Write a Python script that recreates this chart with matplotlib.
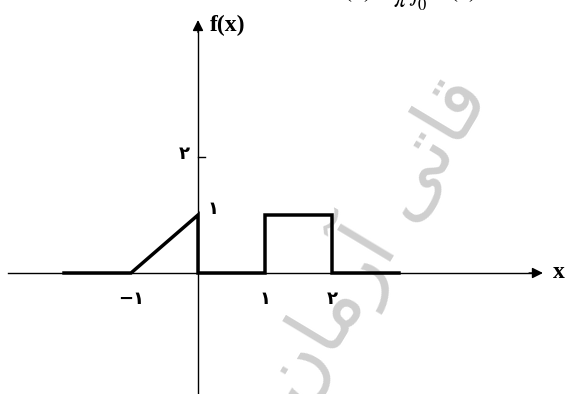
import matplotlib
matplotlib.use("Agg")
import matplotlib.pyplot as plt

# piecewise f(x): zero, ramp from -1 to 0, box on [1, 2], zero again
seg_x = [-2, -1, 0, 0, 1, 1, 2, 2, 3]
seg_y = [0, 0, 1, 0, 0, 1, 1, 0, 0]

xtick_pos = [-1, 1, 2]
xtick_lab = ["\u2212\u06f1", "\u06f1", "\u06f2"]
ytick_pos = [2]
ytick_lab = ["\u06f2"]
ramp_top_lab = "\u06f1"

# watermark "قاتی آرمان", pre-shaped and put in visual order
watermark = "\ufee5\ufe8e\ufee3\ufead\ufe81 \ufef0\ufe97\ufe8e\ufed7"

plt.rcParams['font.family'] = ['DejaVu Sans']
plt.rcParams['mathtext.fontset'] = 'stix'

fig = plt.figure(figsize=(5.66, 3.94), dpi=100)
ax = fig.add_axes([0, 0, 1, 1])
ax.set_xlim(-198 / 67, (566 - 198) / 67)
ax.set_ylim((273 - 394) / 58, 273 / 58)
ax.axis('off')

# watermark behind everything
ax.text(2.6, 0.6, watermark, fontsize=58, color='#cfcfcf', rotation=59,
        rotation_mode='anchor', ha='center', va='center', zorder=0)

# axes with arrows
ax.plot([-2.84, 5.0], [0, 0], color='black', lw=1.0, zorder=2)
ax.annotate('', xy=(5.19, 0), xytext=(4.9, 0),
            arrowprops=dict(arrowstyle='-|>', color='black', lw=1.0, mutation_scale=16))
ax.plot([0, 0], [-2.2, 4.2], color='black', lw=1.0, zorder=2)
ax.annotate('', xy=(0, 4.41), xytext=(0, 4.1),
            arrowprops=dict(arrowstyle='-|>', color='black', lw=1.0, mutation_scale=16))

# graph
ax.plot(seg_x, seg_y, color='black', lw=2.5, solid_joinstyle='miter', zorder=3)

# tick on y axis
for yp, lab in zip(ytick_pos, ytick_lab):
    ax.plot([0, 0.1], [yp, yp], color='black', lw=1.0)
    ax.text(-0.2, yp + 0.05, lab, fontsize=13, fontweight='bold', ha='center', va='center')
ax.text(0.22, 1.1, ramp_top_lab, fontsize=13, fontweight='bold', ha='center', va='center')

for xp, lab in zip(xtick_pos, xtick_lab):
    ax.text(xp, -0.45, lab, fontsize=13, fontweight='bold', ha='center', va='center')

# axis labels
ax.text(0.18, 4.26, 'f(x)', family='Liberation Serif', fontweight='bold', fontsize=17,
        ha='left', va='center')
ax.text(5.3, 0, 'x', family='Liberation Serif', fontweight='bold', fontsize=17,
        ha='left', va='center')

# formula cut off by the top edge
ax.text(1.95, 4.73, r'$\mathbf{F(x)}=\dfrac{\mathbf{2}}{\pi}\int_0^{\infty} \mathbf{f(x)\ cos\ x}$',
        fontsize=17, ha='left', va='baseline', clip_on=False)

fig.savefig('out.png', dpi=100)
